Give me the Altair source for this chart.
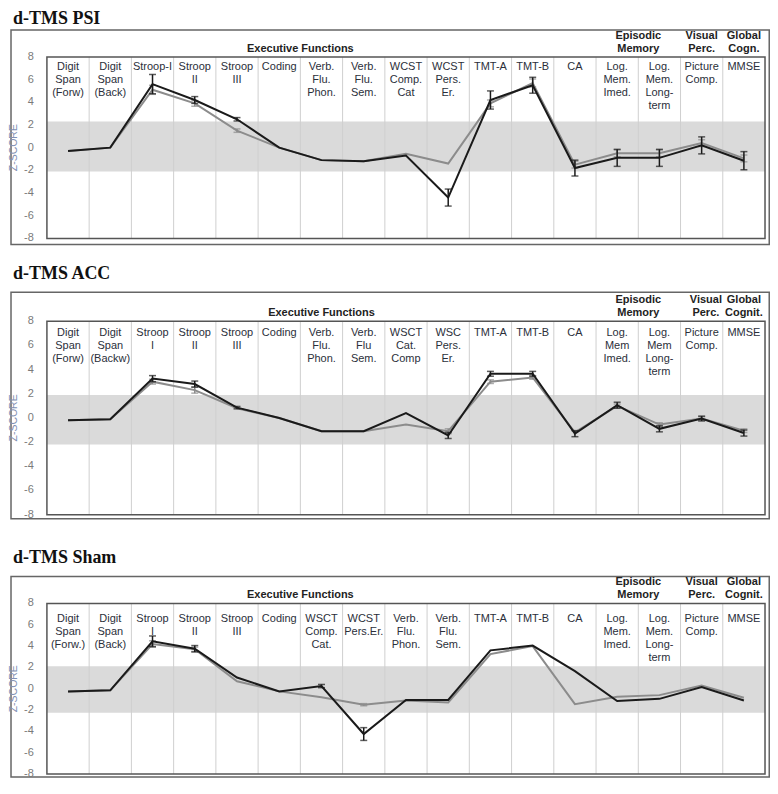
import altair as alt
import pandas as pd

# ---------------- data ----------------
psi_labels = ["Digit\nSpan\n(Forw)", "Digit\nSpan\n(Back)", "Stroop-I", "Stroop\nII", "Stroop\nIII",
              "Coding", "Verb.\nFlu.\nPhon.", "Verb.\nFlu.\nSem.", "WCST\nComp.\nCat", "WCST\nPers.\nEr.",
              "TMT-A", "TMT-B", "CA", "Log.\nMem.\nImed.", "Log.\nMem.\nLong-\nterm", "Picture\nComp.", "MMSE"]
acc_labels = ["Digit\nSpan\n(Forw)", "Digit\nSpan\n(Backw)", "Stroop\nI", "Stroop\nII", "Stroop\nIII",
              "Coding", "Verb.\nFlu.\nPhon.", "Verb.\nFlu\nSem.", "WSCT\nCat.\nComp", "WSC\nPers.\nEr.",
              "TMT-A", "TMT-B", "CA", "Log.\nMem\nImed.", "Log.\nMem\nLong-\nterm", "Picture\nComp.", "MMSE"]
sham_labels = ["Digit\nSpan\n(Forw.)", "Digit\nSpan\n(Back)", "Stroop\nI", "Stroop\nII", "Stroop\nIII",
               "Coding", "WSCT\nComp.\nCat.", "WCST\nPers.Er.", "Verb.\nFlu.\nPhon.", "Verb.\nFlu.\nSem.",
               "TMT-A", "TMT-B", "CA", "Log.\nMem.\nImed.", "Log.\nMem.\nLong-\nterm", "Picture\nComp.", "MMSE"]

header_texts_psi = ["Executive Functions", "Episodic\nMemory", "Visual\nPerc.", "Global\nCogn."]
header_texts_other = ["Executive Functions", "Episodic\nMemory", "Visual\nPerc.", "Global\nCognit."]
header_cols_psi = [6.0, 14.0, 15.5, 16.5]
header_cols_acc = [6.5, 14.0, 15.6, 16.5]
header_cols_sham = [6.0, 14.0, 15.5, 16.5]

psi_black = [-0.3, 0.0, 5.6, 4.2, 2.5, 0.0, -1.1, -1.2, -0.7, -4.4, 4.2, 5.5, -1.8, -0.9, -0.9, 0.2, -1.15]
psi_black_err = [0, 0, 0.85, 0.3, 0.15, 0, 0, 0, 0, 0.75, 0.8, 0.7, 0.7, 0.75, 0.75, 0.75, 0.8]
psi_grey = [-0.3, 0.0, 5.1, 3.9, 1.5, 0.0, -1.1, -1.2, -0.55, -1.4, 3.9, 5.7, -1.5, -0.5, -0.5, 0.4, -0.95]
psi_grey_err = [0, 0, 0.4, 0.25, 0.15, 0, 0, 0, 0, 0, 0.3, 0.35, 0.3, 0.3, 0.3, 0.3, 0.3]
psi_band = [-2.1, 2.3]

acc_black = [-0.2, -0.1, 3.25, 2.8, 0.85, 0.0, -1.1, -1.1, 0.4, -1.45, 3.65, 3.65, -1.3, 1.05, -0.9, -0.05, -1.25]
acc_black_err = [0, 0, 0.25, 0.25, 0.1, 0, 0, 0, 0, 0.25, 0.2, 0.2, 0.25, 0.25, 0.25, 0.2, 0.25]
acc_grey = [-0.2, -0.1, 3.0, 2.3, 0.8, 0.0, -1.1, -1.1, -0.55, -1.1, 3.0, 3.35, -1.2, 1.0, -0.55, -0.05, -1.05]
acc_grey_err = [0, 0, 0.2, 0.25, 0, 0, 0, 0, 0, 0.2, 0.15, 0.15, 0, 0.15, 0.15, 0.15, 0.15]
acc_band = [-2.2, 1.9]

sham_black = [-0.25, -0.15, 4.45, 3.75, 1.05, -0.25, 0.25, -4.25, -1.05, -1.05, 3.6, 4.05, 1.65, -1.15, -0.95, 0.15, -1.1]
sham_black_err = [0, 0, 0.5, 0.3, 0, 0, 0.15, 0.6, 0, 0, 0, 0, 0, 0, 0, 0, 0]
sham_grey = [-0.25, -0.15, 4.2, 3.7, 0.7, -0.25, -0.8, -1.5, -1.1, -1.3, 3.25, 4.0, -1.45, -0.75, -0.6, 0.3, -0.85]
sham_grey_err = [0, 0, 0.3, 0.2, 0, 0, 0, 0.1, 0, 0, 0, 0, 0, 0, 0, 0, 0]
sham_band = [-2.25, 2.1]

y_ticks = [8, 6, 4, 2, 0, -2, -4, -6, -8]

# ---------------- layout ----------------
W = 762
XMIN, XMAX = -0.874, 17.118
N = 17
SANS = "Liberation Sans"
LH = 13


def panel(title, labels, headers, header_cols, black, black_err, grey, grey_err, band, H, px):
    unit = (px["inner_bottom"] - px["inner_top"]) / 16.0
    ymax = 8 + px["inner_top"] / unit
    ymin = -8 - (H - px["inner_bottom"]) / unit

    def Y(p):
        return 8 - (p - px["inner_top"]) / unit

    xs = alt.Scale(domain=[XMIN, XMAX], nice=False, zero=False)
    ys = alt.Scale(domain=[ymin, ymax], nice=False, zero=False)

    def X(f):
        return alt.X(f, type="quantitative", scale=xs, axis=None)

    def YE(f):
        return alt.Y(f, type="quantitative", scale=ys, axis=None)

    layers = []
    outer = pd.DataFrame({"x": [-0.85], "x2": [17.1], "y": [Y(px["outer_bottom"])], "y2": [Y(px["outer_top"])]})
    layers.append(alt.Chart(outer).mark_rect(fill="white", stroke="#666666", strokeWidth=1.5).encode(
        x=X("x"), x2="x2", y=YE("y"), y2="y2"))

    bd = pd.DataFrame({"x": [0], "x2": [N], "y": [band[0]], "y2": [band[1]]})
    layers.append(alt.Chart(bd).mark_rect(fill="#dadada").encode(x=X("x"), x2="x2", y=YE("y"), y2="y2"))

    vl = pd.DataFrame({"x": list(range(1, N)), "y": [-8] * (N - 1), "y2": [8] * (N - 1)})
    layers.append(alt.Chart(vl).mark_rule(color="#cfcfcf", strokeWidth=1).encode(x=X("x"), y=YE("y"), y2="y2"))

    inner = pd.DataFrame({"x": [0], "x2": [N], "y": [-8], "y2": [8]})
    layers.append(alt.Chart(inner).mark_rect(fillOpacity=0, stroke="#555555", strokeWidth=1.5).encode(
        x=X("x"), x2="x2", y=YE("y"), y2="y2"))

    yt = pd.DataFrame({"x": [-0.31] * len(y_ticks), "y": y_ticks, "t": [str(v) for v in y_ticks]})
    layers.append(alt.Chart(yt).mark_text(align="right", baseline="middle", font=SANS, fontSize=11,
                                          color="#7a7a7a").encode(x=X("x"), y=YE("y"), text="t:N"))

    zt = pd.DataFrame({"x": [-0.78], "y": [0], "t": ["Z-SCORE"]})
    layers.append(alt.Chart(zt).mark_text(angle=270, align="center", baseline="middle", font=SANS, fontSize=10.5,
                                          color="#8391b3").encode(x=X("x"), y=YE("y"), text="t:N"))

    cl = pd.DataFrame({"x": [i + 0.5 for i in range(N)], "y": [Y(px["inner_top"] + px["label_off"])] * N,
                       "t": labels})
    layers.append(alt.Chart(cl).mark_text(align="center", baseline="top", lineBreak="\n", lineHeight=LH,
                                          font=SANS, fontSize=11, color="#2b2f3a").encode(
        x=X("x"), y=YE("y"), text="t:N"))

    hd = pd.DataFrame({"x": header_cols,
                       "y": [Y(px["inner_top"] - 1 - LH * (h.count("\n") + 1)) for h in headers],
                       "t": headers})
    layers.append(alt.Chart(hd).mark_text(align="center", baseline="top", lineBreak="\n", lineHeight=LH,
                                          font=SANS, fontSize=11, fontWeight="bold", color="#222222").encode(
        x=X("x"), y=YE("y"), text="t:N"))

    tt = pd.DataFrame({"x": [-0.8], "y": [Y(px["title"])], "t": [title]})
    layers.append(alt.Chart(tt).mark_text(align="left", baseline="alphabetic", font="Liberation Serif",
                                          fontSize=18, fontWeight="bold", color="#111111").encode(
        x=X("x"), y=YE("y"), text="t:N"))

    for vals, errs, color in [(grey, grey_err, "#8c8c8c"), (black, black_err, "#1a1a1a")]:
        ln = pd.DataFrame({"x": [i + 0.5 for i in range(N)], "v": vals})
        layers.append(alt.Chart(ln).mark_line(color=color, strokeWidth=2).encode(x=X("x"), y=YE("v")))
        eb = pd.DataFrame({"x": [i + 0.5 for i in range(N) if errs[i] > 0],
                           "lo": [vals[i] - errs[i] for i in range(N) if errs[i] > 0],
                           "hi": [vals[i] + errs[i] for i in range(N) if errs[i] > 0]})
        layers.append(alt.Chart(eb).mark_rule(color=color, strokeWidth=1.5).encode(
            x=X("x"), y=YE("lo"), y2="hi"))
        caps = pd.concat([eb[["x", "lo"]].rename(columns={"lo": "c"}), eb[["x", "hi"]].rename(columns={"hi": "c"})])
        layers.append(alt.Chart(caps).mark_tick(orient="horizontal", size=7, thickness=1.5, color=color).encode(
            x=X("x"), y=YE("c")))

    return alt.layer(*layers).properties(width=W, height=H)


p1 = panel("d-TMS PSI", psi_labels, header_texts_psi, header_cols_psi, psi_black, psi_black_err, psi_grey,
           psi_grey_err, psi_band, 242,
           {"title": 14, "outer_top": 20, "inner_top": 47, "inner_bottom": 229, "outer_bottom": 235,
            "label_off": 4})
p2 = panel("d-TMS ACC", acc_labels, header_texts_other, header_cols_acc, acc_black, acc_black_err, acc_grey,
           acc_grey_err, acc_band, 280,
           {"title": 28, "outer_top": 41, "inner_top": 70, "inner_bottom": 264, "outer_bottom": 268,
            "label_off": 6})
p3 = panel("d-TMS Sham", sham_labels, header_texts_other, header_cols_sham, sham_black, sham_black_err,
           sham_grey, sham_grey_err, sham_band, 248,
           {"title": 32, "outer_top": 46, "inner_top": 73, "inner_bottom": 244, "outer_bottom": 247,
            "label_off": 10})

chart = alt.vconcat(p1, p2, p3, spacing=0).properties(padding=0).configure_view(stroke=None)
chart.save("out.html", embed_options={"renderer": "svg", "actions": False})
